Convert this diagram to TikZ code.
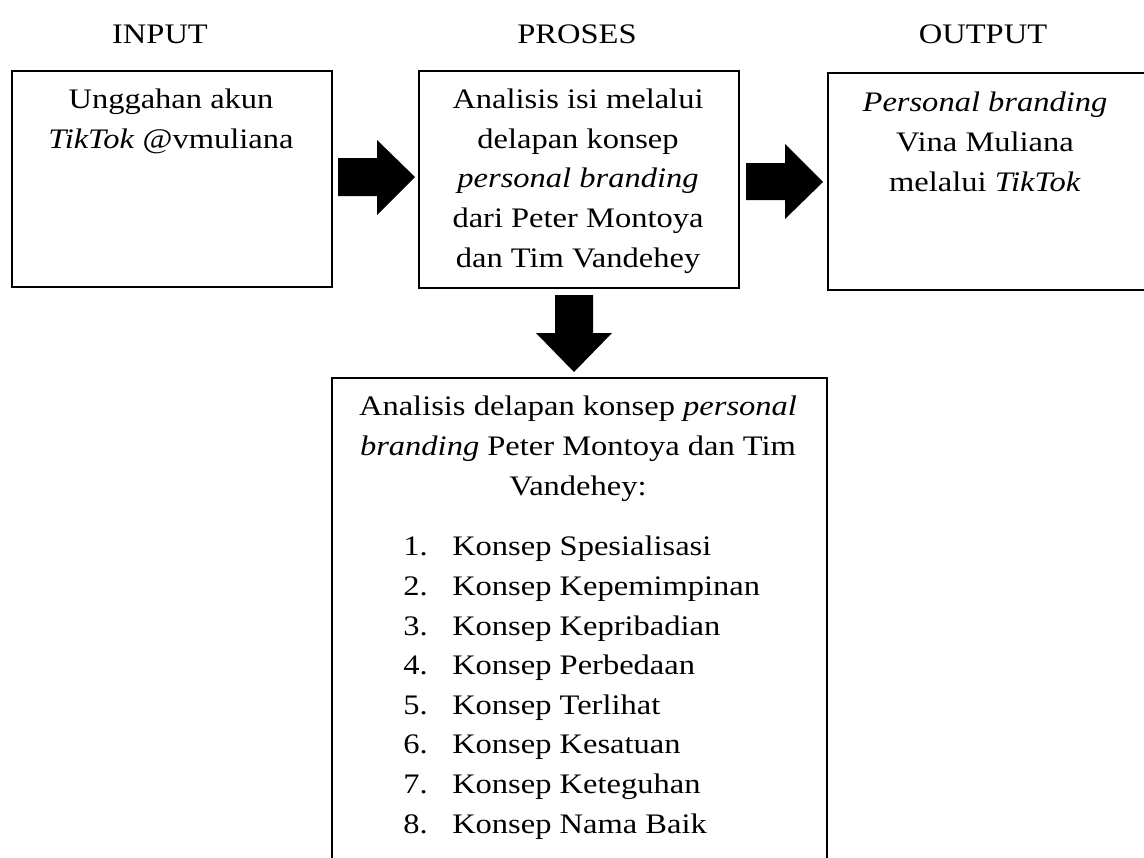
\documentclass[tikz,border=0pt]{standalone}
\usepackage{fontspec}
\setmainfont{Liberation Serif}[FakeStretch=1.15]
\begin{document}
\begin{tikzpicture}[x=0.75pt,y=-0.75pt,
  box/.style={draw, line width=1.5pt, inner sep=0pt, anchor=north west},
  txt/.style={font=\fontsize{21.2pt}{29.7pt}\selectfont, inner sep=0pt, align=center, anchor=base},
  lst/.style={font=\fontsize{21.2pt}{29.7pt}\selectfont, inner sep=0pt, align=left, anchor=base west},
  blockarrow/.style={fill=black}]
\useasboundingbox (0,0) rectangle (1144,857);
\clip (0,0) rectangle (1144,857);
% titles
\node[txt] (tin) at (160,43) {INPUT};
\node[txt] (tpr) at (577,43) {PROSES};
\node[txt] (tout) at (983,43) {OUTPUT};
% boxes
\node[box, minimum width=240pt, minimum height=162pt] (b1) at (11,70) {};
\node[box, minimum width=240pt, minimum height=162.75pt] (b2) at (418,70) {};
\node[box, minimum width=244pt, minimum height=162.75pt] (b3) at (827,72) {};
\node[box, minimum width=371.25pt, minimum height=372pt] (b4) at (331,377) {};
% box texts (anchor base = baseline of the last line)
\node[txt] (t1) at (171,148) {Unggahan akun\\\textit{TikTok} @vmuliana};
\node[txt] (t2) at (578,267) {Analisis isi melalui\\delapan konsep\\\textit{personal branding}\\dari Peter Montoya\\dan Tim Vandehey};
\node[txt] (t3) at (985,191) {\textit{Personal branding}\\Vina Muliana\\melalui \textit{TikTok}};
\node[txt] (t4) at (578,495) {Analisis delapan konsep \textit{personal}\\\textit{branding} Peter Montoya dan Tim\\Vandehey:};
\node[lst] (t5) at (403,833) {%
\makebox[36.75pt][l]{1.}Konsep Spesialisasi\\
\makebox[36.75pt][l]{2.}Konsep Kepemimpinan\\
\makebox[36.75pt][l]{3.}Konsep Kepribadian\\
\makebox[36.75pt][l]{4.}Konsep Perbedaan\\
\makebox[36.75pt][l]{5.}Konsep Terlihat\\
\makebox[36.75pt][l]{6.}Konsep Kesatuan\\
\makebox[36.75pt][l]{7.}Konsep Keteguhan\\
\makebox[36.75pt][l]{8.}Konsep Nama Baik};
% block arrows
\fill[blockarrow] (338,158) -- (377,158) -- (377,140) -- (415,177) -- (377,215) -- (377,196) -- (338,196) -- cycle;
\fill[blockarrow] (746,163) -- (785,163) -- (785,144) -- (823,182) -- (785,219) -- (785,200) -- (746,200) -- cycle;
\fill[blockarrow] (555,295) -- (593,295) -- (593,333) -- (612,333) -- (574,372) -- (536,333) -- (555,333) -- cycle;
\end{tikzpicture}
\end{document}
